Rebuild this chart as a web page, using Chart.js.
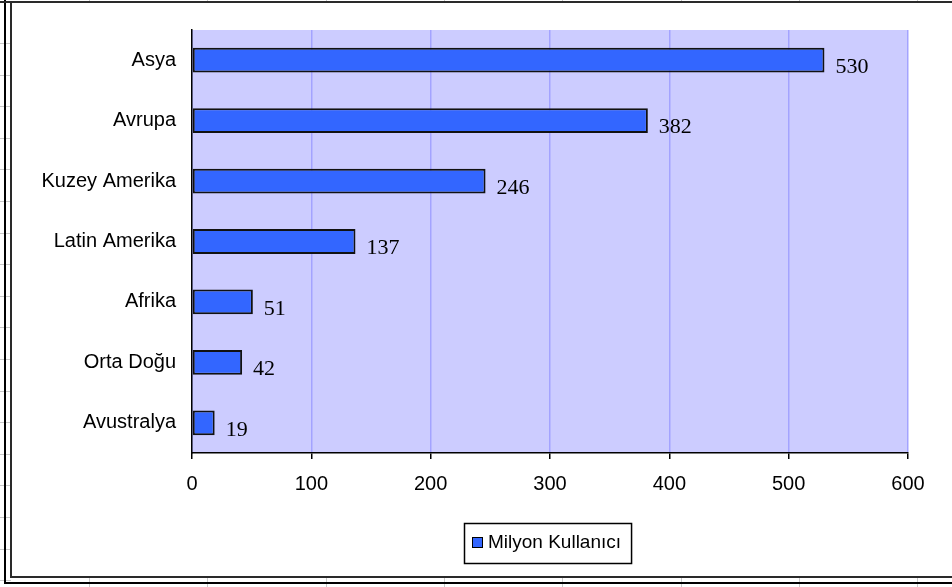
<!DOCTYPE html>
<html>
<head>
<meta charset="utf-8">
<title>Milyon Kullanıcı</title>
<script src="https://cdn.jsdelivr.net/npm/chart.js@4.4.1/dist/chart.umd.min.js"></script>
<style>
  html, body { margin: 0; padding: 0; background: #ffffff; }
  #wrap { width: 952px; height: 587px; }
</style>
</head>
<body>
<div id="wrap"><canvas id="grafik" width="952" height="587"></canvas></div>
<script>
// Bölgelere göre internet kullanıcı sayısı (milyon)
var bolgeler = ["Asya", "Avrupa", "Kuzey Amerika", "Latin Amerika", "Afrika", "Orta Doğu", "Avustralya"];
var kullanicilar = [530, 382, 246, 137, 51, 42, 19];
var seriAdi = "Milyon Kullanıcı";
var eksenDegerleri = [0, 100, 200, 300, 400, 500, 600];

var cubukRengi = "#3366ff";
var zeminRengi = "#ccccff";
var izgaraRengi = "#a3a3ff";
var yaziTipi = "'Liberation Sans', Arial, sans-serif";

// Çerçeve ve arka plandaki tablo çizgileri
var cerceve = {
  id: "cerceve",
  beforeDraw: function(chart) {
    var c = chart.ctx;
    c.save();
    c.fillStyle = "#ffffff";
    c.fillRect(0, 0, chart.width, chart.height);

    // hücre çizgileri (kenarlarda görünen kısımlar)
    c.strokeStyle = "#c8c8c8";
    c.lineWidth = 1;
    for (var x = 89; x < chart.width; x += 118.3) {
      c.beginPath();
      c.moveTo(Math.round(x) + 0.5, 0); c.lineTo(Math.round(x) + 0.5, 2);
      c.moveTo(Math.round(x) + 0.5, 578); c.lineTo(Math.round(x) + 0.5, 587);
      c.stroke();
    }
    for (var y = 43; y < chart.height; y += 31.6) {
      c.beginPath();
      c.moveTo(0, Math.round(y) + 0.5); c.lineTo(11, Math.round(y) + 0.5);
      c.stroke();
    }

    // dış çerçeve
    c.strokeStyle = "#000000";
    c.lineWidth = 2;
    c.beginPath();
    c.moveTo(5, 0); c.lineTo(5, 583); c.lineTo(chart.width, 583);
    c.stroke();
    c.strokeStyle = "#2a2a2a";
    c.beginPath();
    c.moveTo(0, 2); c.lineTo(chart.width, 2);
    c.moveTo(11, 2); c.lineTo(11, 577); c.lineTo(chart.width, 577);
    c.stroke();

    // çizim alanı zemini
    var a = chart.chartArea;
    c.fillStyle = zeminRengi;
    c.fillRect(a.left, a.top, a.right - a.left, a.bottom - a.top);
    c.restore();
  }
};

// Çubukların yanındaki değer etiketleri
var degerEtiketleri = {
  id: "degerEtiketleri",
  afterDatasetsDraw: function(chart) {
    var c = chart.ctx;
    var meta = chart.getDatasetMeta(0);
    c.save();
    c.font = "22px 'Liberation Serif', 'Times New Roman', serif";
    c.fillStyle = "#000000";
    c.textAlign = "left";
    c.textBaseline = "middle";
    meta.data.forEach(function(bar, i) {
      c.fillText(String(chart.data.datasets[0].data[i]), bar.x + 11, bar.y + 7);
    });
    c.restore();
  }
};

// Çerçeveli gösterge kutusu
var gosterge = {
  id: "gosterge",
  afterDraw: function(chart) {
    var c = chart.ctx;
    var a = chart.chartArea;
    var ds = chart.data.datasets[0];
    c.save();
    c.font = "19px " + yaziTipi;
    var tw = c.measureText(ds.label).width;
    var w = 8 + 11 + 5 + tw + 10;
    var h = 40;
    var x = Math.round((a.left + a.right) / 2 - 2 - w / 2);
    var y = Math.round(a.bottom + 70);
    c.fillStyle = "#ffffff";
    c.fillRect(x, y, w, h);
    c.strokeStyle = "#000000";
    c.lineWidth = 1.5;
    c.strokeRect(x + 0.5, y + 0.5, w, h);
    c.fillStyle = ds.backgroundColor;
    c.fillRect(x + 8, y + 14, 11, 11);
    c.lineWidth = 1;
    c.strokeRect(x + 8.5, y + 14.5, 10, 10);
    c.fillStyle = "#000000";
    c.textBaseline = "middle";
    c.fillText(ds.label, x + 24, y + 20);
    c.restore();
  }
};

new Chart(document.getElementById("grafik"), {
  type: "bar",
  data: {
    labels: bolgeler,
    datasets: [{
      label: seriAdi,
      data: kullanicilar,
      backgroundColor: cubukRengi,
      borderColor: "#111111",
      borderWidth: 2,
      borderSkipped: false,
      barPercentage: 0.41,
      categoryPercentage: 1
    }]
  },
  options: {
    indexAxis: "y",
    responsive: false,
    animation: false,
    events: [],
    layout: { padding: { top: 30, right: 44, left: 0, bottom: 94 } },
    plugins: {
      legend: { display: false },
      tooltip: { enabled: false }
    },
    scales: {
      x: {
        min: eksenDegerleri[0],
        max: eksenDegerleri[eksenDegerleri.length - 1],
        afterBuildTicks: function(scale) {
          scale.ticks = eksenDegerleri.map(function(v) { return { value: v }; });
        },
        afterFit: function(scale) { scale.height = 40; },
        grid: {
          color: izgaraRengi,
          lineWidth: 1.5,
          drawTicks: true,
          tickLength: 6,
          tickColor: "#000000",
          tickWidth: 1.5
        },
        border: { display: true, color: "#000000", width: 1.5 },
        ticks: {
          color: "#000000",
          padding: 13,
          maxRotation: 0,
          font: { family: yaziTipi, size: 20 }
        }
      },
      y: {
        afterFit: function(scale) { scale.width = 192; },
        grid: { display: false, drawTicks: false },
        border: { display: true, color: "#000000", width: 1.5 },
        ticks: {
          color: "#000000",
          padding: 16,
          font: { family: yaziTipi, size: 20 }
        }
      }
    }
  },
  plugins: [cerceve, degerEtiketleri, gosterge]
});
</script>
</body>
</html>
